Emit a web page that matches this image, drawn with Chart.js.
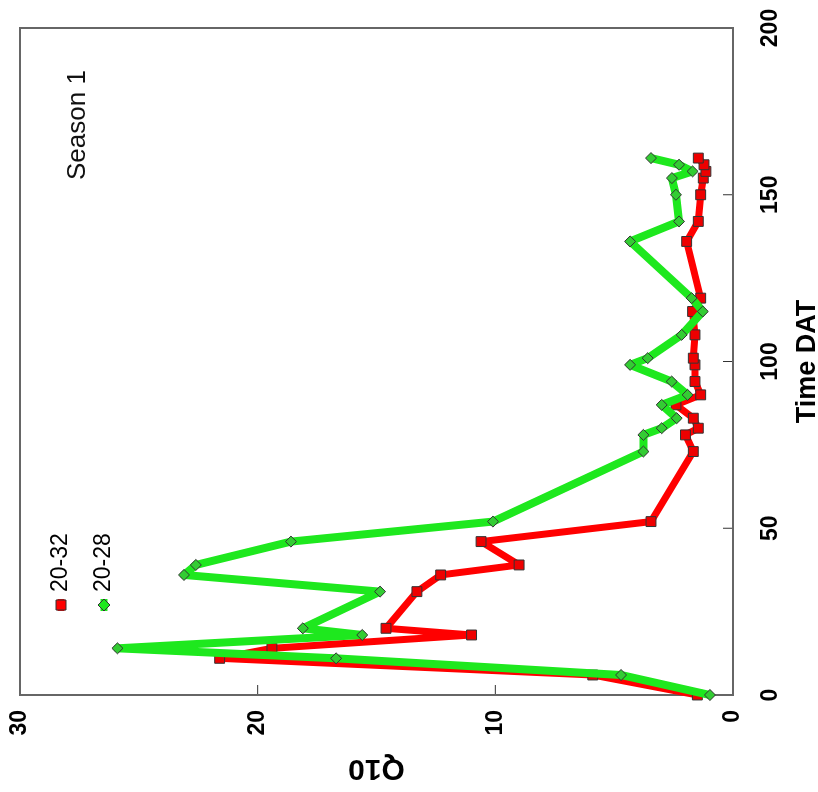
<!DOCTYPE html>
<html lang="en">
<head>
<meta charset="UTF-8">
<title>Q10 Season 1</title>
<style>
  html, body { margin: 0; padding: 0; background: #fff; overflow: hidden; }
  /* the chart is drawn upright and then turned a quarter turn to the left */
  #wrap {
    position: absolute; left: 0; top: 0;
    width: 792px; height: 818px;
    transform-origin: top left;
    transform: translate(0, 792px) rotate(-90deg);
  }
</style>
</head>
<body>
<script src="https://cdn.jsdelivr.net/npm/chart.js"></script>
<div id="wrap"><canvas id="myChart" width="792" height="818"></canvas></div>

<script>
  // days after transplanting
  const days = [0, 6, 11, 14, 18, 20, 31, 36, 39, 46, 52, 73, 78, 80, 83, 87, 90, 94, 99, 101, 108, 115, 119, 136, 142, 150, 155, 157, 159, 161];
  // Q10 for the 20-32 treatment
  const q10_2032 = [1.5, 5.9, 21.6, 19.4, 11.0, 14.6, 13.3, 12.3, 9.0, 10.6, 3.45, 1.67, 2.0, 1.46, 1.67, 2.4, 1.36, 1.6, 1.6, 1.67, 1.6, 1.7, 1.36, 1.95, 1.46, 1.36, 1.25, 1.14, 1.22, 1.46];
  // Q10 for the 20-28 treatment
  const q10_2028 = [0.97, 4.71, 16.7, 25.9, 15.6, 18.1, 14.85, 23.1, 22.6, 18.6, 10.1, 3.77, 3.77, 3.0, 2.37, 3.0, 1.91, 2.58, 4.33, 3.59, 2.16, 1.27, 1.74, 4.33, 2.27, 2.4, 2.57, 1.7, 2.27, 3.45];

  const xTicks = [0, 50, 100, 150, 200];
  const yTicks = [0, 10, 20, 30];

  const RED = '#ff0000';
  const GREEN = '#1ee81e';
  const FONT = 'Liberation Sans, Arial, sans-serif';

  const toPoints = (ys) => days.map((d, i) => ({ x: d, y: ys[i] }));

  // box, inward ticks, season label and legend
  const framePlugin = {
    id: 'frame',
    beforeDatasetsDraw(chart) {
      const { ctx, chartArea: a, scales } = chart;
      ctx.save();
      ctx.strokeStyle = '#333';
      ctx.lineWidth = 1;
      ctx.beginPath();
      xTicks.forEach(v => {
        const px = scales.x.getPixelForValue(v);
        ctx.moveTo(px, a.bottom); ctx.lineTo(px, a.bottom - 10);
      });
      yTicks.forEach(v => {
        const py = scales.y.getPixelForValue(v);
        ctx.moveTo(a.left, py); ctx.lineTo(a.left + 10, py);
      });
      ctx.stroke();
      ctx.strokeStyle = '#666';
      ctx.lineWidth = 2;
      ctx.strokeRect(a.left, a.top, a.right - a.left, a.bottom - a.top);
      ctx.restore();
    },
    afterDraw(chart) {
      const { ctx, chartArea: a } = chart;
      ctx.save();
      ctx.fillStyle = '#111';
      ctx.textBaseline = 'middle';
      ctx.font = '26px ' + FONT;
      ctx.fillText('Season 1', a.left + 515, a.top + 58);

      // legend
      const items = [
        { text: '20-32', color: RED, shape: 'square', y: a.top + 41 },
        { text: '20-28', color: GREEN, shape: 'diamond', y: a.top + 84 }
      ];
      ctx.font = '23px ' + FONT;
      items.forEach(it => {
        const mx = a.left + 90;
        ctx.strokeStyle = it.color;
        ctx.lineWidth = 7;
        ctx.beginPath();
        ctx.moveTo(mx - 6, it.y); ctx.lineTo(mx + 6, it.y);
        ctx.stroke();
        ctx.fillStyle = it.color;
        ctx.strokeStyle = '#333';
        ctx.lineWidth = 1;
        ctx.beginPath();
        if (it.shape === 'square') {
          ctx.rect(mx - 5, it.y - 5, 10, 10);
        } else {
          ctx.moveTo(mx, it.y - 6); ctx.lineTo(mx + 6, it.y);
          ctx.lineTo(mx, it.y + 6); ctx.lineTo(mx - 6, it.y);
          ctx.closePath();
        }
        ctx.fill(); ctx.stroke();
        ctx.fillStyle = '#000';
        ctx.fillText(it.text, mx + 13, it.y);
      });
      ctx.restore();
    }
  };

  const ctx = document.getElementById('myChart').getContext('2d');
  const myChart = new Chart(ctx, {
    type: 'scatter',
    data: {
      datasets: [{
        label: '20-32',
        data: toPoints(q10_2032),
        showLine: true,
        borderColor: RED,
        borderWidth: 7,
        borderJoinStyle: 'round',
        pointStyle: 'rect',
        pointRadius: 7,
        pointBackgroundColor: '#ee0000',
        pointBorderColor: '#333',
        pointBorderWidth: 1,
        order: 1,
        clip: false
      }, {
        label: '20-28',
        data: toPoints(q10_2028),
        showLine: true,
        borderColor: GREEN,
        borderWidth: 8,
        borderJoinStyle: 'round',
        pointStyle: 'rectRot',
        pointRadius: 5.5,
        pointBackgroundColor: '#33cc33',
        pointBorderColor: '#333',
        pointBorderWidth: 1,
        order: 0,
        clip: false
      }]
    },
    options: {
      responsive: false,
      animation: false,
      layout: { padding: { left: 0, right: 28, top: 20, bottom: 0 } },
      plugins: {
        legend: { display: false },
        tooltip: { enabled: false }
      },
      elements: { line: { tension: 0 } },
      scales: {
        x: {
          type: 'linear',
          min: 0, max: 200,
          afterFit: (s) => { s.height = 85; },
          afterBuildTicks: (s) => { s.ticks = xTicks.map(v => ({ value: v })); },
          // tick marks are drawn inward by the plugin; tickLength only spaces the labels
          grid: { display: false, drawTicks: true, tickLength: 24 },
          border: { display: false },
          ticks: { color: '#000', padding: 0, maxRotation: 0, font: { family: FONT, weight: 'bold', size: 23 } },
          title: {
            display: true, text: 'Time DAT', color: '#000',
            padding: 0,
            font: { family: FONT, weight: 'bold', size: 27, lineHeight: 0.8 }
          }
        },
        y: {
          type: 'linear',
          min: 0, max: 30,
          afterFit: (s) => { s.width = 97; },
          afterBuildTicks: (s) => { s.ticks = yTicks.map(v => ({ value: v })); },
          grid: { display: false, drawTicks: true, tickLength: 15 },
          border: { display: false },
          ticks: { color: '#000', padding: 0, font: { family: FONT, weight: 'bold', size: 23 } },
          title: {
            display: true, text: 'Q10', color: '#000',
            padding: { top: 6, bottom: 0 },
            font: { family: FONT, weight: 'bold', size: 30, lineHeight: 1.2 }
          }
        }
      }
    },
    plugins: [framePlugin]
  });
</script>
</body>
</html>
